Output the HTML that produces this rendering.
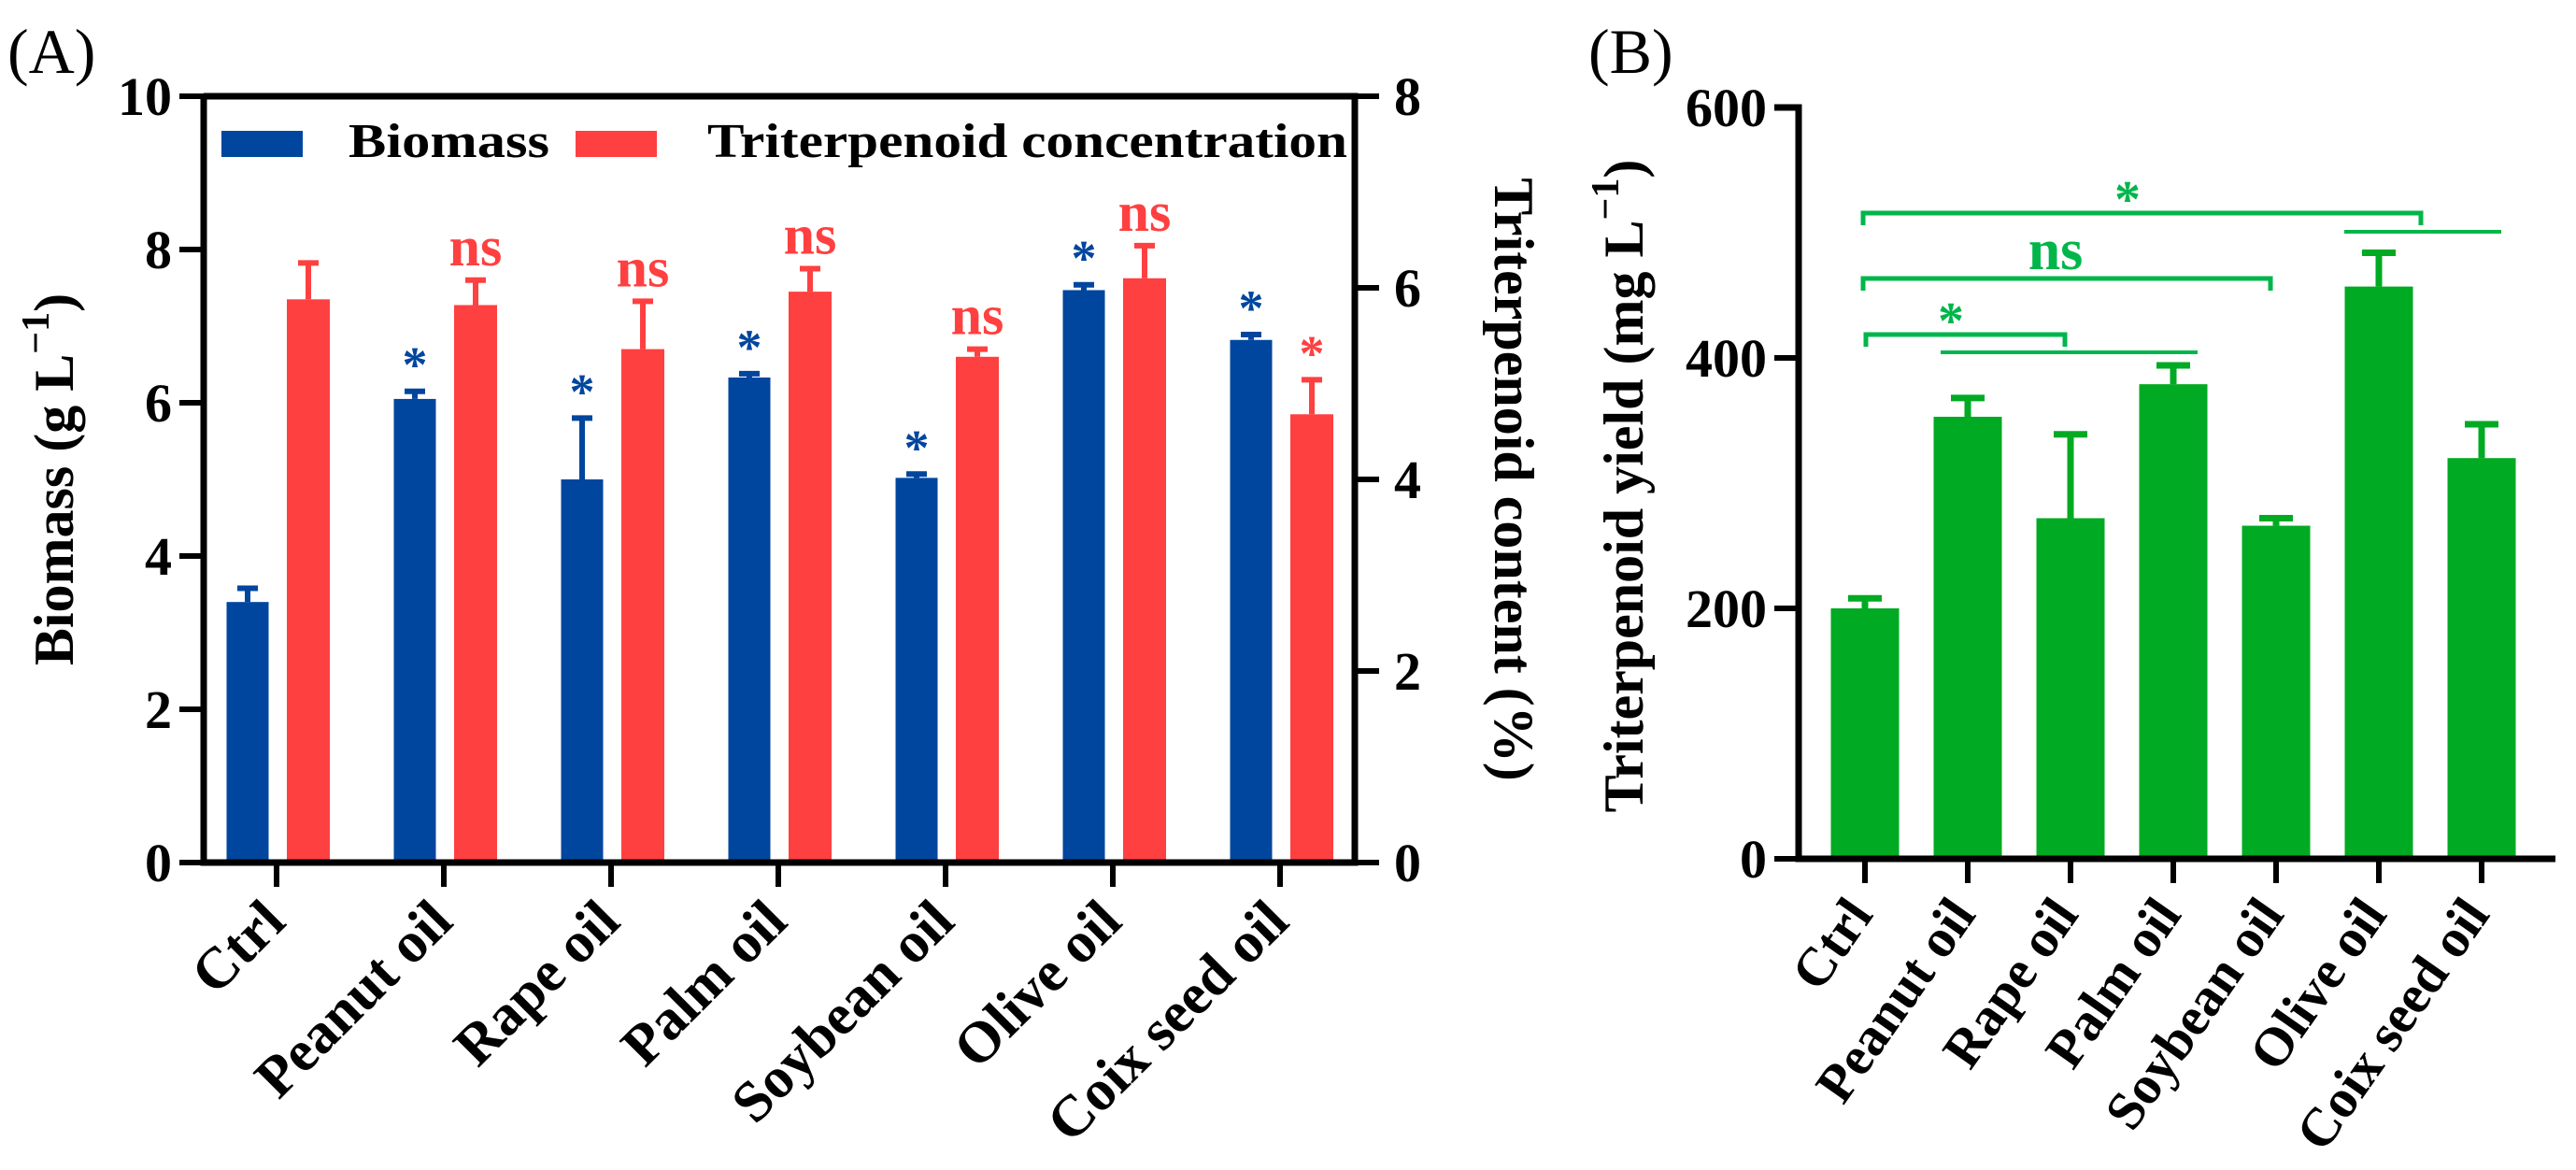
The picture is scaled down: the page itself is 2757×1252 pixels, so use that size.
<!DOCTYPE html>
<html><head><meta charset="utf-8">
<style>
html,body{margin:0;padding:0;background:#fff;}
svg{display:block;font-family:"Liberation Serif",serif;}
</style></head>
<body>
<svg id="fig" width="2757" height="1252" viewBox="0 0 2757 1252" xmlns="http://www.w3.org/2000/svg"></svg>
<script>
const categories = ["Ctrl","Peanut oil","Rape oil","Palm oil","Soybean oil","Olive oil","Coix seed oil"];
const biomass = [3.4, 6.05, 5.0, 6.33, 5.02, 7.47, 6.82];
const biomassErr = [0.18, 0.1, 0.8, 0.05, 0.05, 0.07, 0.07];
const triContent = [5.88, 5.82, 5.36, 5.96, 5.28, 6.10, 4.68];
const triContentErr = [0.38, 0.26, 0.5, 0.24, 0.08, 0.34, 0.36];
const biomassMarks = ["", "*", "*", "*", "*", "*", "*"];
const triMarks = ["", "ns", "ns", "ns", "ns", "ns", "*"];
const leftTicks = [0, 2, 4, 6, 8, 10];
const rightTicks = [0, 2, 4, 6, 8];
const yieldVals = [200, 353, 272, 379, 266, 457, 320];
const yieldErr = [8, 15, 67, 15, 6, 27, 27];
const yieldTicks = [0, 200, 400, 600];

const NS = "http://www.w3.org/2000/svg";
const svg = document.getElementById("fig");
function mk(tag, attrs, parent, text) {
  const e = document.createElementNS(NS, tag);
  for (const k in attrs) e.setAttribute(k, attrs[k]);
  if (text !== undefined) e.textContent = text;
  (parent || svg).appendChild(e);
  return e;
}
const BLUE = "#00469e", RED = "#ff4040", GREEN = "#00aa22", GLINE = "#00b64a";

// ---------- Panel A ----------
const A = {x0: 218, x1: 1450, y0: 923, y1: 103};
const yL = v => A.y0 - (v / 10) * (A.y0 - A.y1);
const yR = v => A.y0 - (v / 8) * (A.y0 - A.y1);
const xA = i => 296 + 179 * i;
const gA = mk("g", {});



const labA = mk("text", {x: 8, y: 78, "font-size": 68}, gA, "(A)");



categories.forEach((c, i) => {
  const cx = xA(i);
  const bx = cx - 31;
  const b = mk("rect", {x: bx - 22.5, y: yL(biomass[i]), width: 45, height: A.y0 - yL(biomass[i]), fill: BLUE}, gA);
  
  
  const bt = yL(biomass[i] + biomassErr[i]);
  const be = mk("path", {d: `M${bx} ${yL(biomass[i])}V${bt}M${bx-11} ${bt}H${bx+11}`, stroke: BLUE, "stroke-width": 6, fill: "none"}, gA);
  
  
  if (biomassMarks[i]) {
    const m = mk("text", {x: bx, y: bt - 10, "font-size": 54, "font-weight": "bold", fill: BLUE, "text-anchor": "middle"}, gA, biomassMarks[i]);
    
    
  }
  const rx = cx + 34;
  const r = mk("rect", {x: rx - 23, y: yR(triContent[i]), width: 46, height: A.y0 - yR(triContent[i]), fill: RED}, gA);
  
  
  const rt = yR(triContent[i] + triContentErr[i]);
  const re = mk("path", {d: `M${rx} ${yR(triContent[i])}V${rt}M${rx-11} ${rt}H${rx+11}`, stroke: RED, "stroke-width": 6, fill: "none"}, gA);
  
  
  if (triMarks[i]) {
    const isStar = triMarks[i] === "*";
    const m = mk("text", {x: rx, y: rt - (isStar ? 10 : 16), "font-size": isStar ? 54 : 60, "font-weight": "bold", fill: RED, "text-anchor": "middle"}, gA, triMarks[i]);
    
    
  }
  const t = mk("line", {x1: cx, y1: A.y0, x2: cx, y2: A.y0 + 26, stroke: "#000", "stroke-width": 6}, gA);
  
  
  const lx = cx + 12, ly = A.y0 + 66;
  const l = mk("text", {x: lx, y: ly, "font-size": 62, "font-weight": "bold", "text-anchor": "end", transform: `rotate(-45 ${lx} ${ly})`}, gA, c);
  
  
});

const axA = mk("path", {d: `M${A.x0} ${A.y1}V${A.y0}H${A.x1}V${A.y1}H${A.x0}`, stroke: "#000", "stroke-width": 7, fill: "none"}, gA);


leftTicks.forEach(v => {
  const y = yL(v);
  const t = mk("line", {x1: A.x0 - 26, y1: y, x2: A.x0, y2: y, stroke: "#000", "stroke-width": 6}, gA);
  
  
  const l = mk("text", {x: A.x0 - 34, y: y + 20, "font-size": 58, "font-weight": "bold", "text-anchor": "end"}, gA, v);
  
  
});
rightTicks.forEach(v => {
  const y = yR(v);
  const t = mk("line", {x1: A.x1, y1: y, x2: A.x1 + 26, y2: y, stroke: "#000", "stroke-width": 6}, gA);
  
  
  const l = mk("text", {x: A.x1 + 42, y: y + 20, "font-size": 58, "font-weight": "bold"}, gA, v);
  
  
});
const ytA = mk("text", {x: 0, y: 0, "font-size": 60, "font-weight": "bold", "text-anchor": "middle", transform: "translate(78 513) rotate(-90)"}, gA);


ytA.innerHTML = 'Biomass (g L<tspan dy="-26" font-size="42">\u22121</tspan><tspan dy="26">)</tspan>';
const ytR = mk("text", {x: 0, y: 0, "font-size": 60, "font-weight": "bold", "text-anchor": "middle", transform: "translate(1600 513) rotate(90)"}, gA, "Triterpenoid content (%)");



const lg = mk("g", {}, gA);


const l1 = mk("rect", {x: 237, y: 140, width: 87, height: 28, fill: BLUE}, lg);


const l1t = mk("text", {x: 373, y: 168, "font-size": 52, "font-weight": "bold", textLength: 215, lengthAdjust: "spacingAndGlyphs"}, lg, "Biomass");


const l2 = mk("rect", {x: 616, y: 140, width: 87, height: 28, fill: RED}, lg);


const l2t = mk("text", {x: 757, y: 168, "font-size": 52, "font-weight": "bold", textLength: 685, lengthAdjust: "spacingAndGlyphs"}, lg, "Triterpenoid concentration");



// ---------- Panel B ----------
const B = {x0: 1925, x1: 2735, y0: 919, y1: 115};
const yB = v => B.y0 - (v / 600) * (B.y0 - B.y1);
const xB = i => 1996 + 110 * i;
const gB = mk("g", {});


const labB = mk("text", {x: 1700, y: 78, "font-size": 68}, gB, "(B)");



categories.forEach((c, i) => {
  const cx = xB(i);
  const b = mk("rect", {x: cx - 36.5, y: yB(yieldVals[i]), width: 73, height: B.y0 - yB(yieldVals[i]), fill: GREEN}, gB);
  
  
  const et = yB(yieldVals[i] + yieldErr[i]);
  const e = mk("path", {d: `M${cx} ${yB(yieldVals[i])}V${et}M${cx-18} ${et}H${cx+18}`, stroke: GREEN, "stroke-width": 7, fill: "none"}, gB);
  
  
  const t = mk("line", {x1: cx, y1: B.y0, x2: cx, y2: B.y0 + 26, stroke: "#000", "stroke-width": 6}, gB);
  
  
  const lx = cx + 10, ly = B.y0 + 60;
  const l = mk("text", {x: lx, y: ly, "font-size": 58, "font-weight": "bold", "text-anchor": "end", transform: `rotate(-55 ${lx} ${ly})`}, gB, c);
  
  
});
const axB = mk("path", {d: `M${B.x0 - 26} ${B.y1}H${B.x0}V${B.y0}H${B.x1}`, stroke: "#000", "stroke-width": 7, fill: "none"}, gB);


yieldTicks.forEach(v => {
  const y = yB(v);
  const t = mk("line", {x1: B.x0 - 26, y1: y, x2: B.x0, y2: y, stroke: "#000", "stroke-width": 6}, gB);
  
  
  const l = mk("text", {x: B.x0 - 34, y: y + 20, "font-size": 58, "font-weight": "bold", "text-anchor": "end"}, gB, v);
  
  
});
const ytB = mk("text", {x: 0, y: 0, "font-size": 60, "font-weight": "bold", "text-anchor": "middle", transform: "translate(1758 520) rotate(-90)"}, gB);


ytB.innerHTML = 'Triterpenoid yield (mg L<tspan dy="-26" font-size="42">\u22121</tspan><tspan dy="26">)</tspan>';

function bracket(x1, x2, y, label, lx, ly, size) {
  const p = mk("path", {d: `M${x1} ${y+13}V${y}H${x2}V${y+13}`, stroke: GLINE, "stroke-width": 5, fill: "none"}, gB);
  
  
  const t = mk("text", {x: lx, y: ly, "font-size": size, "font-weight": "bold", fill: GLINE, "text-anchor": "middle"}, gB, label);
  
  
}
function hline(x1, x2, y) {
  const p = mk("line", {x1: x1, y1: y, x2: x2, y2: y, stroke: GLINE, "stroke-width": 4}, gB);
  
  
}
bracket(1994, 2591, 228, "*", 2277, 232, 56);
hline(2509, 2677, 248);
bracket(1994, 2430, 298, "ns", 2200, 288, 62);
bracket(1997, 2210, 358, "*", 2088, 362, 56);
hline(2077, 2352, 377);
</script>
</body></html>
